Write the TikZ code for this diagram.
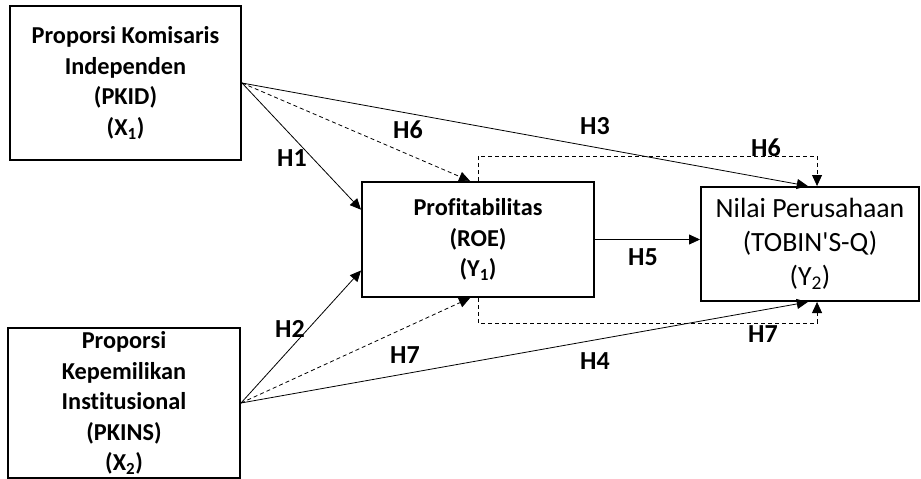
\documentclass[tikz,border=0pt]{standalone}
\usepackage{fontspec}
\setmainfont{Carlito}[Ligatures={NoCommon}]
\usetikzlibrary{arrows.meta,calc}
\begin{document}
\begin{tikzpicture}[x=1pt,y=-1pt,
  varbox/.style={draw=black,line width=2pt,align=center,inner sep=0pt,
    font=\fontsize{24.3}{30.5}\selectfont\bfseries},
  conn/.style={line width=0.8pt,-{Triangle[length=11pt,width=10pt]}},
  dconn/.style={conn,dash pattern=on 4pt off 3pt},
  hlab/.style={font=\fontsize{26}{30}\selectfont\bfseries,inner sep=0pt}]
\useasboundingbox (0,0) rectangle (921,479);
\node[varbox,minimum width=231pt,minimum height=154pt] (X1) at (125.5,83)
  {Proporsi Komisaris\\Independen\\(PKID)\\(X\textsubscript{1})};
\node[varbox,minimum width=232pt,minimum height=150pt] (X2) at (124,403)
  {Proporsi\\Kepemilikan\\Institusional\\(PKINS)\\(X\textsubscript{2})};
\node[varbox,minimum width=232pt,minimum height=115pt] (Y1) at (478,239.5)
  {Profitabilitas\\(ROE)\\(Y\textsubscript{1})};
\node[varbox,minimum width=218pt,minimum height=114pt,
  font=\fontsize{27.8}{34}\selectfont] (Y2) at (810,244)
  {\raisebox{-4pt}{\parbox{218pt}{\centering Nilai Perusahaan\\(TOBIN\textquotesingle S-Q)\\(Y\textsubscript{2})}}};
% attach points
\coordinate (Y1w1) at ($(Y1.north west)!0.245!(Y1.south west)$);
\coordinate (Y1w2) at ($(Y1.north west)!0.765!(Y1.south west)$);
\coordinate (Y1n) at ($(Y1.north west)!0.466!(Y1.north east)$);
\coordinate (Y1s) at ($(Y1.south west)!0.466!(Y1.south east)$);
\coordinate (Y2n) at ($(Y2.north west)!0.49!(Y2.north east)$);
\coordinate (Y2s) at ($(Y2.south west)!0.49!(Y2.south east)$);
\coordinate (Y2nd) at ($(Y2.north west)!0.532!(Y2.north east)$);
\coordinate (Y2sd) at ($(Y2.south west)!0.532!(Y2.south east)$);
\coordinate (topd) at ($(Y1.north)+(0,-25)$);
\coordinate (botd) at ($(Y1.south)+(0,25)$);
% connectors
\draw[conn] (X1.east) -- (Y1w1);
\draw[dconn] (X1.east) -- (Y1n);
\draw[conn] (X1.east) -- (Y2n);
\draw[conn] (X2.east) -- (Y1w2);
\draw[dconn] (X2.east) -- (Y1s);
\draw[conn] (X2.east) -- (Y2s);
\draw[conn] (Y1.east) -- (Y1.east -| Y2.west);
\draw[dconn] (Y1.north) -- (topd) -- (topd -| Y2nd) -- (Y2nd);
\draw[dconn] (Y1.south) -- (botd) -- (botd -| Y2sd) -- (Y2sd);
% labels
\node[hlab] (h1) at (292,158) {H1};
\node[hlab] (h6a) at (408,130) {H6};
\node[hlab] (h3) at (595,126) {H3};
\node[hlab] (h6b) at (766,148) {H6};
\node[hlab] (h5) at (643,257) {H5};
\node[hlab] (h2) at (290,329) {H2};
\node[hlab] (h7a) at (405,355) {H7};
\node[hlab] (h4) at (595,361) {H4};
\node[hlab] (h7b) at (763,334) {H7};
\end{tikzpicture}
\end{document}
